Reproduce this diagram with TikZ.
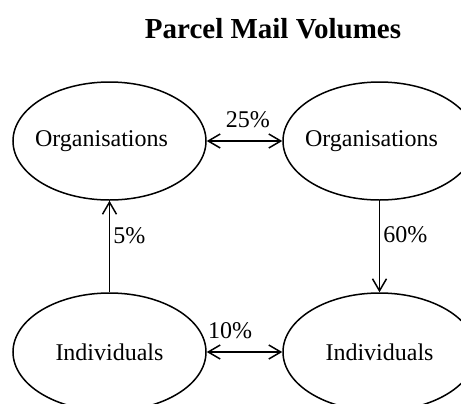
\documentclass[tikz,border=0pt]{standalone}
\usepackage{fontspec}
\setmainfont{Liberation Serif}
\usetikzlibrary{shapes.geometric,arrows.meta}

\begin{document}
\begin{tikzpicture}[x = 0.5pt, y = -0.5pt, >={Straight Barb[length = 6pt, width = 7pt]},
    party/.style = {shape = ellipse, draw, line width = 0.75pt, minimum width = 96.5pt, minimum height = 59pt, inner sep = 0pt, font = \fontsize{12}{14}\selectfont},
    flow/.style = {line width = 0.75pt},
    share/.style = {font = \fontsize{12}{14}\selectfont, inner sep = 1.5pt}]
    \useasboundingbox[clip] (0,0) rectangle (461,403);
    \node (title) at (273,29) {\fontsize{14.5}{17}\selectfont\bfseries Parcel Mail Volumes};
    \node [party] (orgL) at (109.5,141) {\kern-8pt Organisations};
    \node [party] (orgR) at (379.5,141) {\kern-8pt Organisations};
    \node [party] (indL) at (109.5,352) {Individuals};
    \node [party] (indR) at (379.5,352) {Individuals};
    \draw [flow, <->] (orgL.east) -- node[share, above, pos = 0.545, inner sep = 6pt]{25\%} (orgR.west);
    \draw [flow, <->] (indL.east) -- node[share, above, pos = 0.31, inner sep = 6pt]{10\%} (indR.west);
    \draw [flow, ->] (indL.north) -- node[share, right, pos = 0.62]{5\%} (orgL.south);
    \draw [flow, ->] (orgR.south) -- node[share, right, pos = 0.376]{60\%} (indR.north);
\end{tikzpicture}
\end{document}
